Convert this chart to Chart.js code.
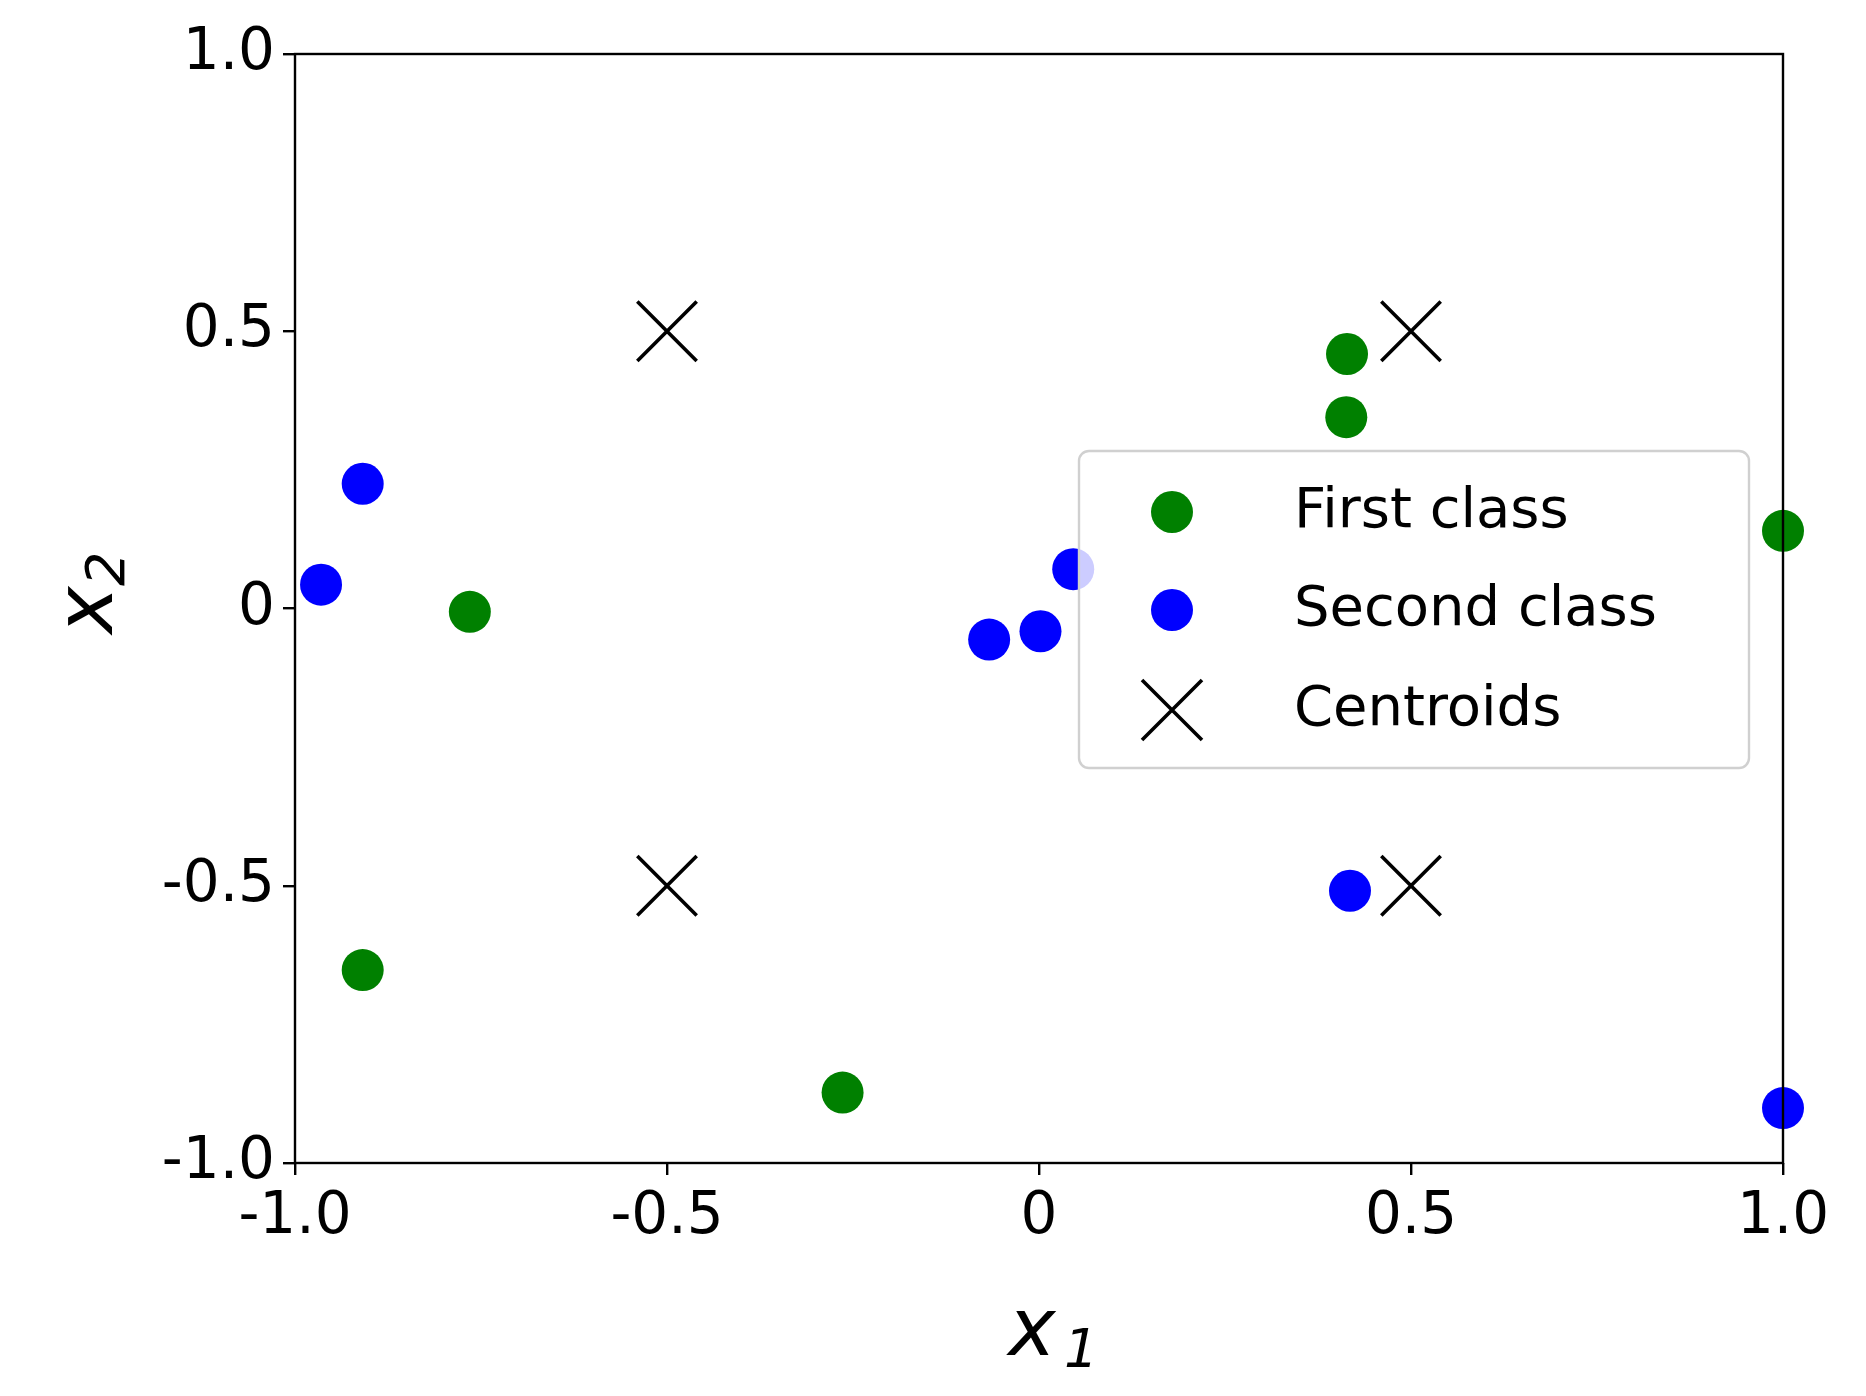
<!DOCTYPE html><html><head><style>body{margin:0;background:#fff}canvas{display:block}</style>
<script src="https://cdn.jsdelivr.net/npm/chart.js"></script></head><body>
<div style="width:1866px;height:1396px"><canvas id="c" width="1866" height="1396"></canvas></div>
<script>
const firstX=[0.414,0.413,1.0,-0.765,-0.909,-0.264];
const firstY=[0.459,0.345,0.14,-0.006,-0.652,-0.873];
const secondX=[-0.909,-0.965,0.046,-0.067,0.002,0.418,1.0];
const secondY=[0.225,0.043,0.071,-0.056,-0.041,-0.509,-0.901];
const centX=[-0.5,0.5,-0.5,0.5];
const centY=[0.5,0.5,-0.5,-0.5];
const ticks=[-1,-0.5,0,0.5,1];
const tickLabels=['-1.0','-0.5','0','0.5','1.0'];
const names=['First class','Second class','Centroids'];
const pts=(xs,ys)=>xs.map((x,i)=>({x,y:ys[i]}));
const F='"DejaVu Sans"';
const frame={id:'frame',afterDatasetsDraw(ch){const a=ch.chartArea,c=ch.ctx;c.save();c.strokeStyle='#000';c.lineWidth=2.4;c.strokeRect(a.left,a.top,a.right-a.left,a.bottom-a.top);
// legend
const lx=1079,ly=451,lw=670,lh=317;c.beginPath();c.roundRect(lx,ly,lw,lh,10);c.fillStyle='rgba(255,255,255,0.8)';c.fill();c.strokeStyle='#d0d0d0';c.lineWidth=2.4;c.stroke();
const ys=[512,610,710];c.font='56px '+F;c.textBaseline='middle';c.fillStyle='#000';
[['green'],['blue']].forEach((col,i)=>{c.beginPath();c.arc(1172,ys[i],21,0,7);c.fillStyle=col[0];c.fill();});
c.strokeStyle='#000';c.lineWidth=3.6;c.beginPath();c.moveTo(1142,ys[2]-30);c.lineTo(1202,ys[2]+30);c.moveTo(1142,ys[2]+30);c.lineTo(1202,ys[2]-30);c.stroke();
c.fillStyle='#000';names.forEach((n,i)=>c.fillText(n,1294,ys[i]));
// axis labels
c.font='italic 80px '+F;c.textAlign='center';c.textBaseline='alphabetic';c.fillText('x',1032,1355);c.font='italic 54px '+F;c.textAlign='left';c.fillText('1',1064,1367);
c.translate(112,610);c.rotate(-Math.PI/2);c.font='italic 80px '+F;c.textAlign='center';c.fillText('x',0,0);c.font='italic 54px '+F;c.textAlign='left';c.fillText('2',24,12);
c.restore();}};
const ax=(pos)=>({type:'linear',min:-1,max:1,position:pos,
 afterBuildTicks:s=>{s.ticks=ticks.map(v=>({value:v}));},
 afterFit:s=>{if(pos==='bottom')s.height=233;else s.width=295;},
 grid:{drawOnChartArea:false,drawTicks:true,tickLength:12,color:'#000',lineWidth:2.4},
 border:{display:false},
 ticks:{color:'#000',font:{family:'DejaVu Sans',size:58},padding:8,callback:(v)=>tickLabels[ticks.indexOf(v)]}});
new Chart(document.getElementById('c'),{type:'scatter',
data:{datasets:[
{label:names[0],data:pts(firstX,firstY),backgroundColor:'green',borderWidth:0,pointRadius:21},
{label:names[1],data:pts(secondX,secondY),backgroundColor:'blue',borderWidth:0,pointRadius:21},
{label:names[2],data:pts(centX,centY),pointStyle:'cross',rotation:45,borderColor:'#000',borderWidth:3.6,pointRadius:42}]},
options:{responsive:false,animation:false,clip:false,layout:{padding:{top:54,right:83,left:0,bottom:0}},
plugins:{legend:{display:false},tooltip:{enabled:false}},
scales:{x:ax('bottom'),y:ax('left')}},plugins:[frame]});
</script></body></html>
